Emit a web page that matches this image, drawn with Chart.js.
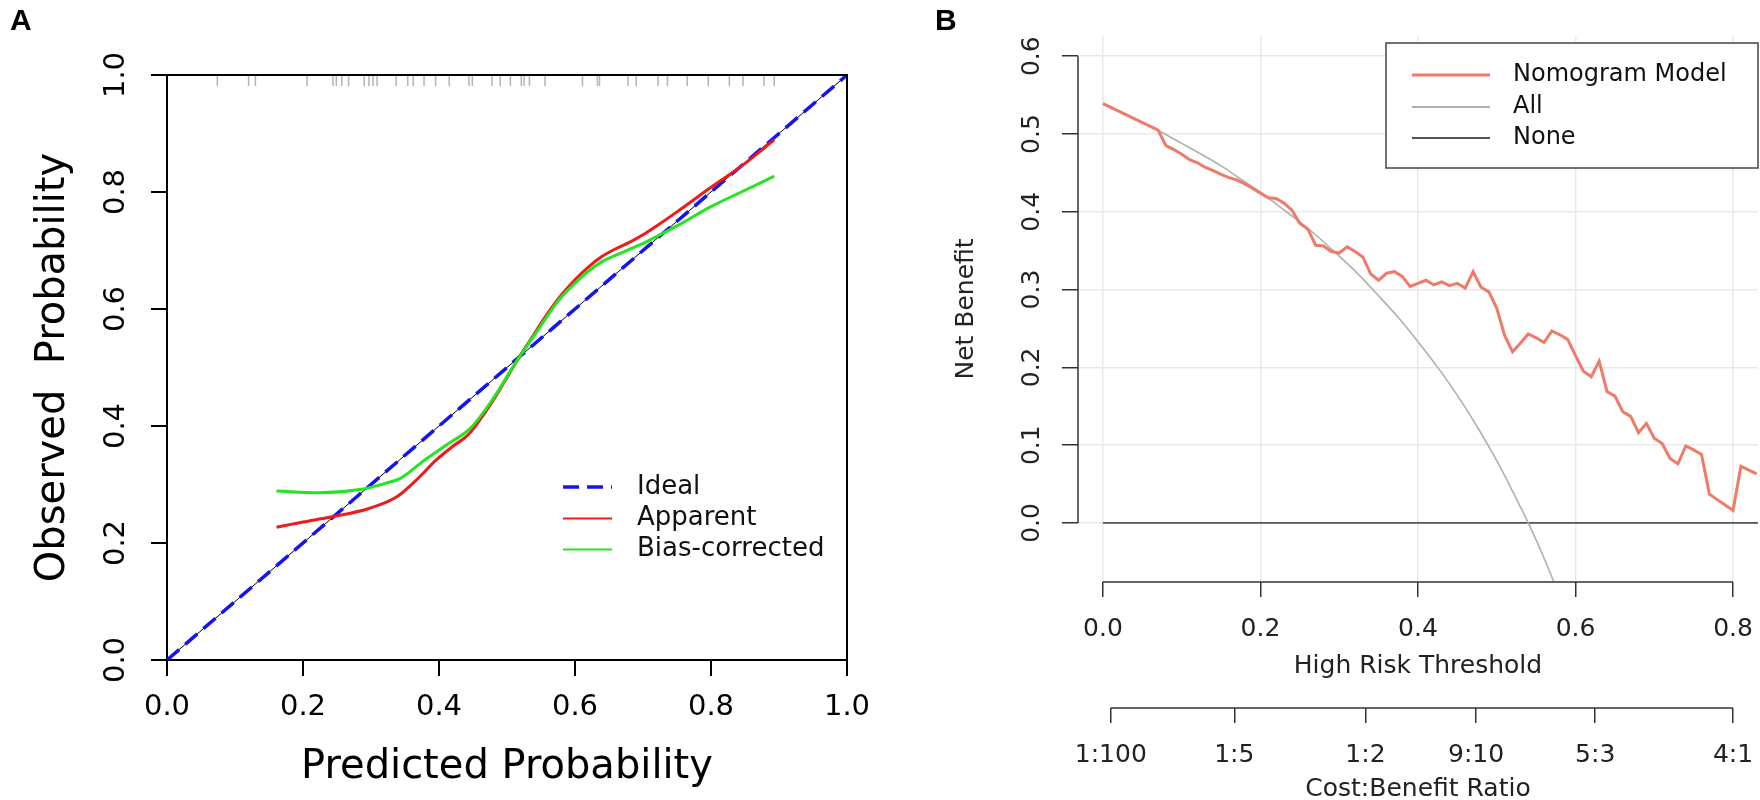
<!DOCTYPE html>
<html><head><meta charset="utf-8">
<script src="https://cdn.jsdelivr.net/npm/chart.js@4.4.1/dist/chart.umd.min.js"></script>
<style>
html,body{margin:0;padding:0;background:#fff;overflow:hidden;width:1760px;height:800px;}
#wrapA{position:absolute;left:0;top:0;width:880px;height:800px;}
#wrapB{position:absolute;left:880px;top:0;width:880px;height:820px;}
canvas{display:block;}
</style></head><body>
<div id="wrapA"><canvas id="cA" width="880" height="800"></canvas></div>
<div id="wrapB"><canvas id="cB" width="880" height="820"></canvas></div>
<script>
// ---------- Panel A : calibration curve ----------
const calTicks = [0.0, 0.2, 0.4, 0.6, 0.8, 1.0];
const idealX = [0, 1];
const idealY = [0, 1];
const apparentX = [0.161,0.20,0.239,0.297,0.338,0.367,0.396,0.420,0.443,0.463,0.483,0.500,0.518,0.535,0.553,0.575,0.600,0.620,0.640,0.660,0.680,0.700,0.720,0.750,0.800,0.850,0.893];
const apparentY = [0.227,0.236,0.244,0.259,0.279,0.308,0.342,0.365,0.385,0.415,0.450,0.483,0.518,0.548,0.581,0.617,0.650,0.672,0.690,0.703,0.714,0.727,0.742,0.766,0.808,0.849,0.889];
const biasX = [0.161,0.222,0.286,0.321,0.344,0.379,0.414,0.446,0.478,0.512,0.542,0.576,0.600,0.620,0.640,0.660,0.680,0.700,0.720,0.750,0.800,0.850,0.893];
const biasY = [0.289,0.286,0.292,0.302,0.311,0.342,0.370,0.396,0.444,0.507,0.558,0.615,0.644,0.665,0.681,0.692,0.702,0.712,0.724,0.742,0.775,0.803,0.827];
const rugX = [0.074,0.120,0.130,0.206,0.244,0.249,0.257,0.267,0.290,0.297,0.303,0.309,0.337,0.354,0.362,0.378,0.395,0.415,0.444,0.449,0.478,0.490,0.505,0.521,0.525,0.533,0.556,0.611,0.633,0.636,0.678,0.690,0.722,0.736,0.765,0.796,0.827,0.847,0.878,0.893];
const calLegend = ['Ideal', 'Apparent', 'Bias-corrected'];

// ---------- Panel B : decision curve ----------
const thresholdTicks = [0.0, 0.2, 0.4, 0.6, 0.8];
const netBenefitTicks = [0.0, 0.1, 0.2, 0.3, 0.4, 0.5, 0.6];
const costBenefitTicks = [0.0099, 0.1667, 0.3333, 0.4737, 0.625, 0.8];
const costBenefitLabels = ['1:100', '1:5', '1:2', '9:10', '5:3', '4:1'];
const modelX = [0,0.07,0.08,0.09,0.10,0.11,0.12,0.13,0.14,0.15,0.16,0.17,0.18,0.19,0.20,0.21,0.22,0.23,0.24,0.25,0.26,0.27,0.28,0.29,0.30,0.31,0.32,0.33,0.34,0.35,0.36,0.37,0.38,0.39,0.40,0.41,0.42,0.43,0.44,0.45,0.46,0.47,0.48,0.49,0.50,0.51,0.52,0.53,0.54,0.55,0.56,0.57,0.58,0.59,0.60,0.61,0.62,0.63,0.64,0.65,0.66,0.67,0.68,0.69,0.70,0.71,0.72,0.73,0.74,0.75,0.76,0.77,0.78,0.79,0.80,0.81,0.82,0.83];
const modelY = [0.539,0.505,0.485,0.480,0.474,0.467,0.463,0.457,0.453,0.448,0.444,0.441,0.436,0.430,0.424,0.418,0.417,0.411,0.402,0.385,0.378,0.357,0.356,0.349,0.347,0.355,0.349,0.342,0.320,0.312,0.321,0.323,0.317,0.304,0.308,0.312,0.306,0.310,0.305,0.308,0.302,0.323,0.303,0.297,0.276,0.241,0.220,0.231,0.243,0.238,0.232,0.247,0.242,0.236,0.215,0.195,0.188,0.208,0.169,0.163,0.143,0.137,0.116,0.128,0.109,0.102,0.083,0.076,0.099,0.094,0.088,0.037,0.030,0.023,0.016,0.073,0.068,0.063];
const allX = [0,0.025,0.05,0.075,0.10,0.125,0.15,0.175,0.20,0.225,0.25,0.275,0.30,0.325,0.35,0.375,0.40,0.425,0.45,0.475,0.50,0.52,0.54,0.56,0.58];
const allY = [0.539,0.527,0.515,0.502,0.488,0.474,0.459,0.442,0.425,0.406,0.387,0.366,0.343,0.319,0.292,0.264,0.233,0.200,0.164,0.124,0.080,0.041,0.000,-0.045,-0.095];
const noneX = [0, 0.85];
const noneY = [0, 0];
const dcaLegend = ['Nomogram Model', 'All', 'None'];

const FONT = "'DejaVu Sans', 'Noto Sans', sans-serif";
Chart.defaults.font.family = FONT;
const pts = (xs, ys) => xs.map((x, i) => ({x: x, y: ys[i]}));
const fmt1 = v => Number(v).toFixed(1);
const zeroPad = s => { s.paddingLeft = 0; s.paddingRight = 0; s.paddingTop = 0; s.paddingBottom = 0; };

function drawLegendRows(ctx, chart, names, x0, x1, tx, rows, font, widthOverride) {
  ctx.font = font;
  ctx.textAlign = 'left';
  ctx.textBaseline = 'middle';
  names.forEach((name, i) => {
    const ds = chart.data.datasets.find(d => d.label === name);
    if (!ds) return;
    ctx.save();
    ctx.strokeStyle = ds.borderColor;
    ctx.lineWidth = (widthOverride && widthOverride[i]) || ds.borderWidth;
    ctx.setLineDash(ds.borderDash || []);
    ctx.beginPath();
    ctx.moveTo(x0, rows[i]);
    ctx.lineTo(x1, rows[i]);
    ctx.stroke();
    ctx.restore();
    ctx.fillStyle = '#111';
    ctx.fillText(name, tx, rows[i]);
  });
}

const panelAPlugin = {
  id: 'panelA',
  afterDraw(chart) {
    const {ctx, chartArea: a} = chart;
    ctx.save();
    ctx.strokeStyle = '#000';
    ctx.lineWidth = 2;
    ctx.beginPath();
    ctx.moveTo(a.left, a.top);
    ctx.lineTo(a.right, a.top);
    ctx.lineTo(a.right, a.bottom);
    ctx.stroke();
    drawLegendRows(ctx, chart, calLegend, 563, 612, 637, [487, 518.5, 549.5], '26px ' + FONT, [3.5, 2, 2]);
    ctx.fillStyle = '#000';
    ctx.font = "bold 30px 'Liberation Sans', Arial, sans-serif";
    ctx.textAlign = 'left';
    ctx.textBaseline = 'alphabetic';
    ctx.fillText('A', 10, 29.5);
    ctx.restore();
  }
};

new Chart(document.getElementById('cA'), {
  type: 'line',
  data: {
    datasets: [
      {label: 'Bias-corrected', data: pts(biasX, biasY), borderColor: '#22e622', borderWidth: 3, pointRadius: 0, cubicInterpolationMode: 'monotone', order: 0},
      {label: 'Apparent', data: pts(apparentX, apparentY), borderColor: '#f01a1a', borderWidth: 3, pointRadius: 0, cubicInterpolationMode: 'monotone', order: 1},
      {label: 'Ideal', data: pts(idealX, idealY), borderColor: '#1414ee', borderWidth: 3.5, borderDash: [16, 8], pointRadius: 0, order: 2},
      {label: 'Ideal reference', data: pts(idealX, idealY), borderColor: '#000', borderWidth: 1, pointRadius: 0, order: 3},
      {label: 'rug', data: rugX.map(x => ({x: x, y: 1})), showLine: false, pointStyle: 'line', pointRotation: 90, pointRadius: 11, pointBorderColor: '#b4b4b4', pointBorderWidth: 1.5, borderColor: '#b4b4b4', clip: 0, order: 4}
    ]
  },
  options: {
    responsive: false, animation: false, devicePixelRatio: 1,
    layout: {padding: {left: 0, right: 33, top: 75, bottom: 0}},
    plugins: {legend: {display: false}, tooltip: {enabled: false}},
    scales: {
      x: {
        type: 'linear', min: 0, max: 1, bounds: 'data',
        afterBuildTicks: s => { s.ticks = calTicks.map(v => ({value: v})); },
        afterFit: s => { s.height = 140; zeroPad(s); },
        ticks: {callback: fmt1, font: {size: 29}, color: '#000', padding: 14, autoSkip: false, maxRotation: 0},
        grid: {drawOnChartArea: false, drawTicks: true, tickLength: 16, color: '#000', lineWidth: 2},
        border: {display: true, color: '#000', width: 2},
        title: {display: true, text: 'Predicted Probability', font: {size: 40}, color: '#000', padding: {top: 0, bottom: 8}}
      },
      y: {
        type: 'linear', min: 0, max: 1, bounds: 'data',
        afterBuildTicks: s => { s.ticks = calTicks.map(v => ({value: v})); },
        afterFit: s => { s.width = 167; zeroPad(s); },
        ticks: {callback: fmt1, font: {size: 29}, color: '#000', padding: 11, autoSkip: false, minRotation: 90, maxRotation: 90, crossAlign: 'center'},
        grid: {drawOnChartArea: false, drawTicks: true, tickLength: 16, color: '#000', lineWidth: 2},
        border: {display: true, color: '#000', width: 2},
        title: {display: true, text: 'Observed  Probability', font: {size: 40}, color: '#000', padding: {top: 30, bottom: 0}}
      }
    }
  },
  plugins: [panelAPlugin]
});

const panelBPlugin = {
  id: 'panelB',
  afterDraw(chart) {
    const {ctx} = chart;
    const sx = chart.scales.x, sx2 = chart.scales.x2, sy = chart.scales.y;
    ctx.save();
    ctx.strokeStyle = '#333';
    ctx.lineWidth = 1.5;
    ctx.beginPath();
    ctx.moveTo(sy.right, sy.getPixelForValue(netBenefitTicks[0]));
    ctx.lineTo(sy.right, sy.getPixelForValue(netBenefitTicks[netBenefitTicks.length - 1]));
    ctx.moveTo(sx.getPixelForValue(thresholdTicks[0]), sx.top);
    ctx.lineTo(sx.getPixelForValue(thresholdTicks[thresholdTicks.length - 1]), sx.top);
    ctx.moveTo(sx2.getPixelForValue(costBenefitTicks[0]), sx2.top);
    ctx.lineTo(sx2.getPixelForValue(costBenefitTicks[costBenefitTicks.length - 1]), sx2.top);
    ctx.stroke();
    // legend box
    ctx.fillStyle = '#fff';
    ctx.fillRect(506, 43, 372, 125);
    ctx.strokeStyle = '#444';
    ctx.lineWidth = 1.5;
    ctx.strokeRect(506, 43, 372, 125);
    drawLegendRows(ctx, chart, dcaLegend, 532, 610, 633, [75, 107, 138], '24px ' + FONT, [3, 2, 2]);
    ctx.fillStyle = '#000';
    ctx.font = "bold 30px 'Liberation Sans', Arial, sans-serif";
    ctx.textAlign = 'left';
    ctx.textBaseline = 'alphabetic';
    ctx.fillText('B', 55, 29.5);
    ctx.restore();
  }
};

const xMinB = -0.0317, xMaxB = 0.8317;
new Chart(document.getElementById('cB'), {
  type: 'line',
  data: {
    datasets: [
      {label: 'Nomogram Model', data: pts(modelX, modelY), borderColor: '#ee7b68', borderWidth: 3, pointRadius: 0, tension: 0, clip: 0, order: 0},
      {label: 'All', data: pts(allX, allY), borderColor: '#b0b0b0', borderWidth: 1.6, pointRadius: 0, cubicInterpolationMode: 'monotone', clip: 0, order: 1},
      {label: 'None', data: pts(noneX, noneY), borderColor: '#555', borderWidth: 1.8, pointRadius: 0, clip: 0, order: 2}
    ]
  },
  options: {
    responsive: false, animation: false, devicePixelRatio: 1,
    layout: {padding: {left: 0, right: 2, top: 36, bottom: 0}},
    plugins: {legend: {display: false}, tooltip: {enabled: false}},
    scales: {
      x: {
        type: 'linear', position: 'bottom', min: xMinB, max: xMaxB, bounds: 'data',
        afterBuildTicks: s => { s.ticks = thresholdTicks.map(v => ({value: v})); },
        afterFit: s => { s.height = 126; zeroPad(s); },
        ticks: {callback: fmt1, font: {size: 25}, color: '#222', padding: 17, autoSkip: false, maxRotation: 0},
        grid: {drawOnChartArea: true, drawTicks: true, tickLength: 15, color: '#e9e9e9', lineWidth: 1.5, tickColor: '#333', tickWidth: 1.5},
        border: {display: false},
        title: {display: true, text: 'High Risk Threshold', font: {size: 25}, color: '#222', padding: {top: 0, bottom: 26.5}}
      },
      x2: {
        type: 'linear', position: 'bottom', min: xMinB, max: xMaxB, bounds: 'data',
        afterBuildTicks: s => { s.ticks = costBenefitTicks.map(v => ({value: v})); },
        afterFit: s => { s.height = 112; zeroPad(s); },
        ticks: {callback: (v, i) => costBenefitLabels[i], font: {size: 25}, color: '#222', padding: 17.5, autoSkip: false, maxRotation: 0},
        grid: {drawOnChartArea: false, drawTicks: true, tickLength: 15, color: '#333', lineWidth: 1.5},
        border: {display: false},
        title: {display: true, text: 'Cost:Benefit Ratio', font: {size: 25}, color: '#222', padding: {top: 0, bottom: 15.5}}
      },
      y: {
        type: 'linear', min: -0.0759, max: 0.626, bounds: 'data',
        afterBuildTicks: s => { s.ticks = netBenefitTicks.map(v => ({value: v})); },
        afterFit: s => { s.width = 198; zeroPad(s); },
        ticks: {callback: fmt1, font: {size: 25}, color: '#222', padding: 10, autoSkip: false, minRotation: 90, maxRotation: 90, crossAlign: 'center'},
        grid: {drawOnChartArea: true, drawTicks: true, tickLength: 16, color: '#e9e9e9', lineWidth: 1.5, tickColor: '#333', tickWidth: 1.5},
        border: {display: false},
        title: {display: true, text: 'Net Benefit', font: {size: 25}, color: '#222', padding: {top: 71, bottom: 0}}
      }
    }
  },
  plugins: [panelBPlugin]
});
</script>
</body></html>
